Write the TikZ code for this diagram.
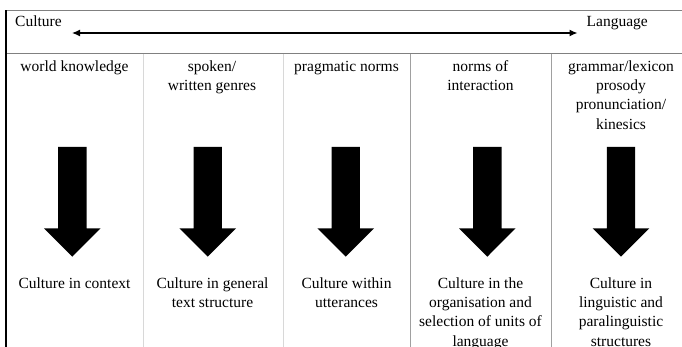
\documentclass[tikz,border=0pt]{standalone}
\usepackage{fontspec}
\setmainfont{Liberation Serif}
\usetikzlibrary{arrows.meta}
\definecolor{lightdiv}{HTML}{D8D8D8}
\definecolor{darkdiv}{HTML}{A0A0A0}
\definecolor{rulegray}{HTML}{808080}
\tikzset{
  txt/.style={inner sep=0pt, align=center, anchor=north, font=\fontsize{15.5}{19.3}\selectfont},
  lbl/.style={inner sep=0pt, anchor=base west, font=\fontsize{15.5}{19.3}\selectfont},
  bigarrow/.style={fill=black, draw=none},
  scalearrow/.style={line width=1.3pt, {Latex[length=8pt,width=7pt]}-{Latex[length=8pt,width=7pt]}},
}
\begin{document}
\begin{tikzpicture}[x=1pt,y=-1pt]
\useasboundingbox (0,0) rectangle (682,347);
\fill[white] (0,0) rectangle (682,347);
% frame
\draw[rulegray, line width=1pt] (6,10.7) -- (682,10.7);
\draw[rulegray, line width=1pt] (6,54) -- (682,54);
\draw[lightdiv, line width=1pt] (143,54) -- (143,347);
\draw[lightdiv, line width=1pt] (283,54) -- (283,347);
\draw[darkdiv, line width=1pt] (410,54) -- (410,347);
\draw[darkdiv, line width=1pt] (551,54) -- (551,347);
\draw[black, line width=1.5pt] (6,10.2) -- (6,347);
% scale
\node[lbl] (cult) at (15,26.5) {Culture};
\node[lbl] (lang) at (586.5,26.5) {Language};
\coordinate (sl) at (72,33);
\coordinate (sr) at (577.5,33);
\draw[scalearrow] (sl) -- (sr);
% headers (first baseline at 71)
\node[txt] (h1) at (74.5,57.5) {\strut world knowledge};
\node[txt] (h2) at (212,57.5) {\strut spoken/\\written genres};
\node[txt] (h3) at (346.5,57.5) {\strut pragmatic norms};
\node[txt] (h4) at (480.5,57.5) {\strut norms of\\interaction};
\node[txt] (h5) at (621,57.5) {\strut grammar/lexicon\\prosody\\pronunciation/\\kinesics};
% big arrows
\foreach \cx in {72.3,207.7,345.7,487.3,621}{
  \fill[bigarrow] (\cx-14.2,147) -- (\cx+14.2,147) -- (\cx+14.2,228.3) -- (\cx+28.3,228.3)
     -- (\cx,256.7) -- (\cx-28.3,228.3) -- (\cx-14.2,228.3) -- cycle;
}
% results (first baseline at 288)
\node[txt] (r1) at (74.5,274.5) {\strut Culture in context};
\node[txt] (r2) at (212.5,274.5) {\strut Culture in general\\text structure};
\node[txt] (r3) at (346.5,274.5) {\strut Culture within\\utterances};
\node[txt] (r4) at (480.5,274.5) {\strut Culture in the\\organisation and\\selection of units of\\language};
\node[txt] (r5) at (621,274.5) {\strut Culture in\\linguistic and\\paralinguistic\\structures};
\end{tikzpicture}
\end{document}
